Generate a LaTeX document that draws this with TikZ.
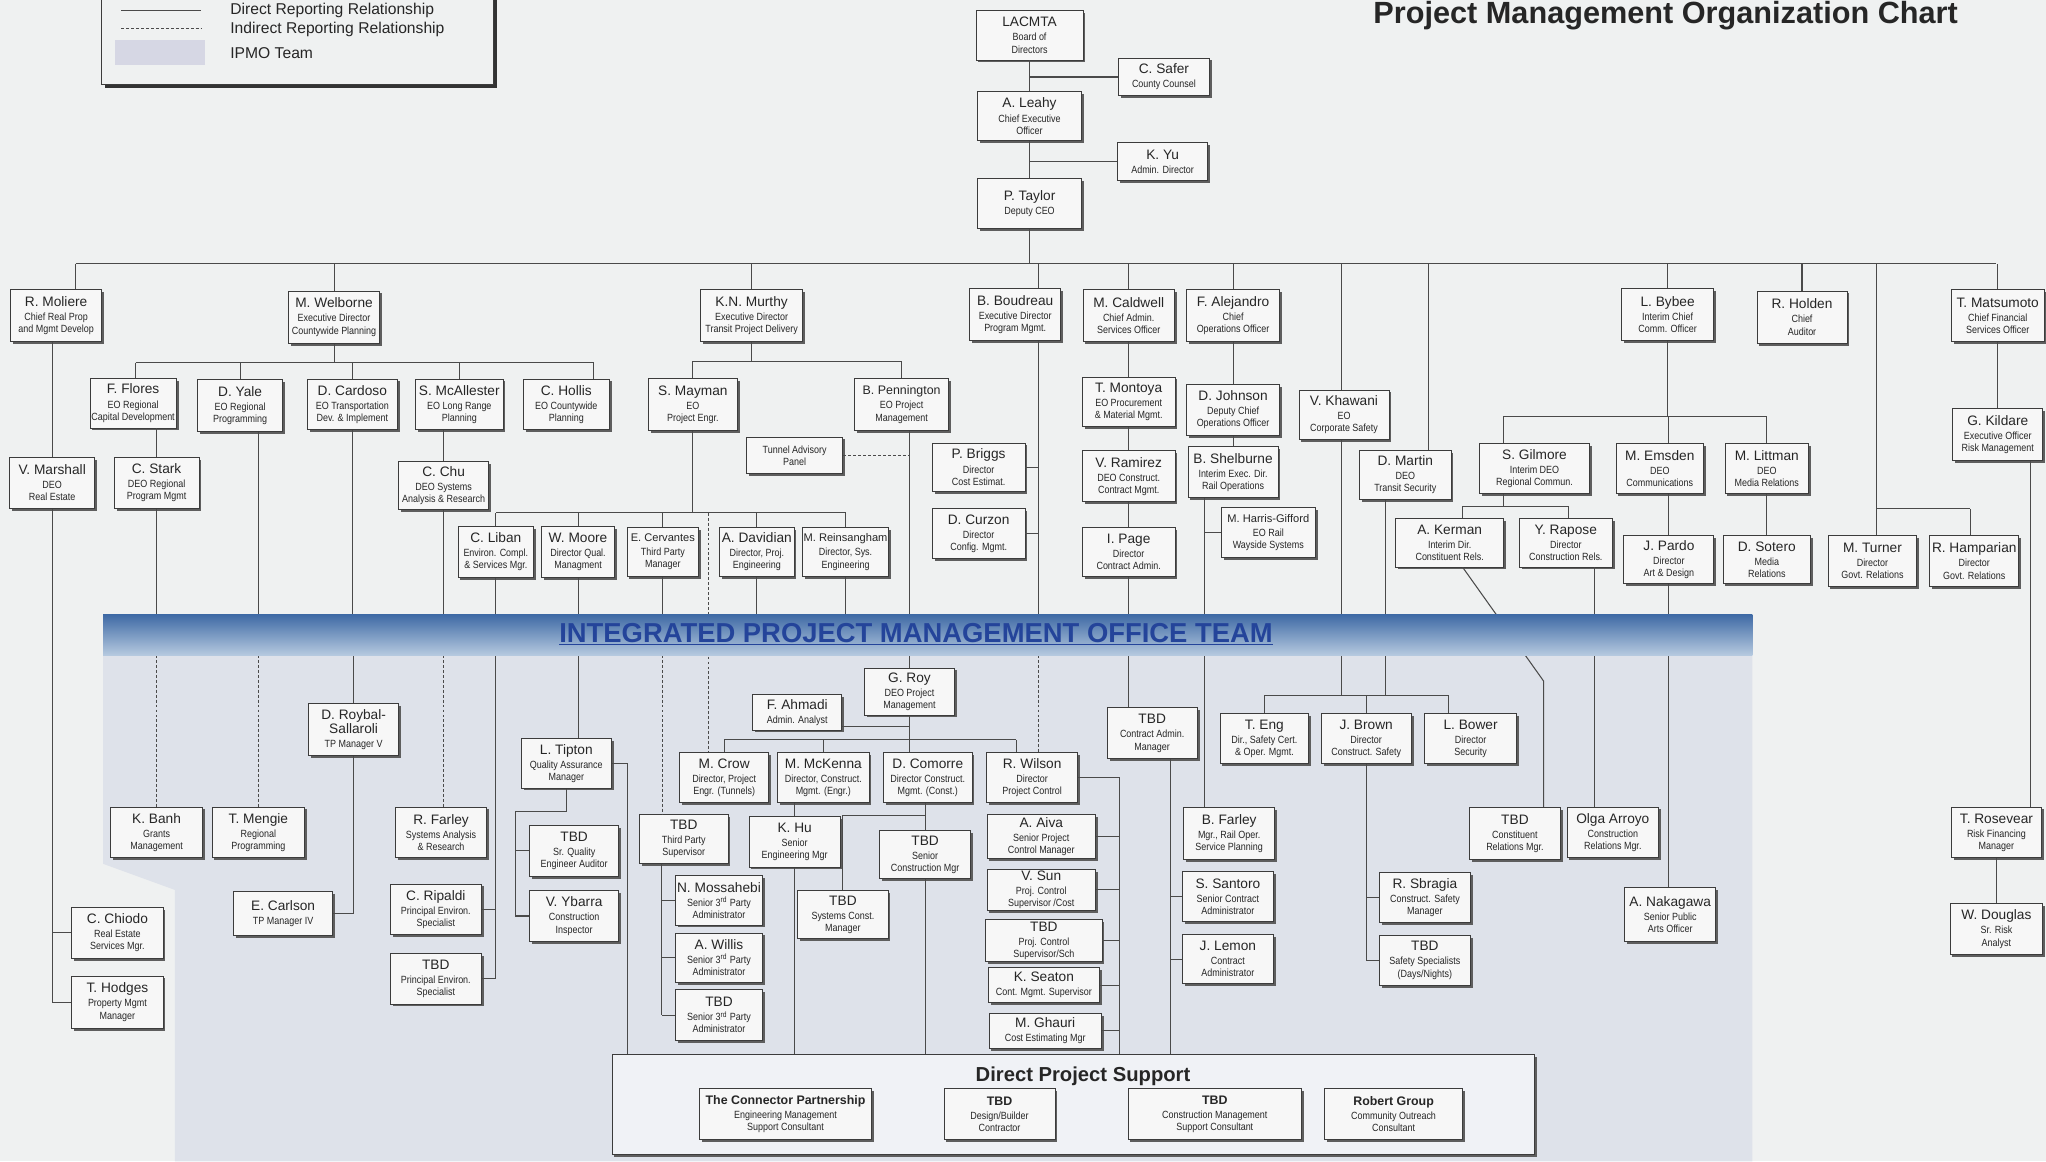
\documentclass[tikz,border=0pt]{standalone}
\usepackage{fontspec}
\setmainfont{Liberation Sans}
\newfontfamily\narrowsf[FakeStretch=0.86]{Liberation Sans}
\usetikzlibrary{shadows}
\definecolor{pagebg}{HTML}{EFF1F1}
\definecolor{ipmobg}{HTML}{DEE2EA}
\definecolor{boxfill}{HTML}{F7F7F7}
\definecolor{boxline}{HTML}{3C3C3C}
\definecolor{boxshade}{HTML}{5E5E5E}
\definecolor{linkgray}{HTML}{4A4A4A}
\definecolor{inkgray}{HTML}{262626}
\definecolor{barblue}{HTML}{3F6AA5}
\definecolor{barlight}{HTML}{B5C9DF}
\definecolor{ipmoblue}{HTML}{24449A}
\definecolor{swatch}{HTML}{D6D7E4}

\pgfdeclarelayer{bg}
\pgfdeclarelayer{front}
\pgfsetlayers{bg,main,front}

\newcommand\psub{\narrowsf\fontsize{8}{9.3}\selectfont}
\newcommand\pname[1]{{\rmfamily\fontsize{10.5}{12}\selectfont #1}\\[1.5pt]}
\newcommand\pnamesm[1]{{\rmfamily\fontsize{8.5}{10}\selectfont #1}\\[1.5pt]}
\newcommand\pnamebf[1]{{\rmfamily\bfseries\fontsize{9.5}{11}\selectfont #1}\\[1.5pt]}

\tikzset{
  pbox/.style={draw=boxline, line width=0.7pt, fill=boxfill, text=inkgray, align=center,
    inner sep=1pt, minimum width=70, minimum height=38, font=\psub,
    general shadow={fill=boxshade, shadow xshift=1.8pt, shadow yshift=-1.8pt}},
  rel/.style={draw=linkgray, line width=0.8pt},
  irel/.style={rel, dash pattern=on 2.2pt off 1.6pt},
  legendtext/.style={anchor=west, text=inkgray, font=\fontsize{12}{14}\selectfont},
}

\begin{document}
\begin{tikzpicture}[x=1pt, y=-1pt]
\useasboundingbox (0,0) rectangle (1568,890);

% Background and IPMO team area
\begin{pgfonlayer}{bg}
\fill[pagebg] (0,0) rectangle (1568,890);
\fill[ipmobg] (79,502) -- (1343,502) -- (1343,890) -- (134,890) -- (134,682) -- (79,662) -- cycle;
\end{pgfonlayer}

% Legend
\node[draw=boxline, line width=0.8pt, fill=pagebg, minimum width=300, minimum height=72,
  general shadow={fill=black!80, shadow xshift=2.5pt, shadow yshift=-2.5pt}] (legend) at (228,29) {};
\draw[rel] (93,8) -- (154,8);
\draw[irel] (93,22) -- (154,22);
\fill[swatch] (88,31) rectangle (157,50);
\node[legendtext] (ldirect) at (173,8) {Direct Reporting Relationship};
\node[legendtext] (lindirect) at (173,22.5) {Indirect Reporting Relationship};
\node[legendtext] (lipmo) at (173,40.5) {IPMO Team};

% Title
\node[font=\bfseries\fontsize{23.5}{26}\selectfont, text=inkgray, anchor=east] (title) at (1504,12) {Project Management Organization Chart};

% Board and CEO
\node[pbox, minimum width=82] (lacmta) at (789,27) {\pname{LACMTA}Board of\\Directors};
\node[pbox, minimum height=29] (safer) at (892,59) {\pname{C. Safer}County Counsel};
\node[pbox, minimum width=80] (leahy) at (789,89) {\pname{A. Leahy}Chief Executive\\Officer};
\node[pbox, minimum height=29, minimum width=69] (kyu) at (891,124) {\pname{K. Yu}Admin. Director};
\node[pbox, minimum width=80] (taylor) at (789,156) {\pname{P. Taylor}Deputy CEO};

% Executive row
\node[pbox, minimum height=40] (moliere) at (43,242) {\pname{R. Moliere}Chief Real Prop\\and Mgmt Develop};
\node[pbox, minimum height=40] (welborne) at (256,243) {\pname{M. Welborne}Executive Director\\Countywide Planning};
\node[pbox, minimum height=40, minimum width=78] (murthy) at (576,242) {\pname{K.N. Murthy}Executive Director\\Transit Project Delivery};
\node[pbox, minimum height=40] (boudreau) at (778,241) {\pname{B. Boudreau}Executive Director\\Program Mgmt.};
\node[pbox, minimum height=40] (caldwell) at (865,242) {\pname{M. Caldwell}Chief Admin.\\Services Officer};
\node[pbox, minimum height=40, minimum width=71] (alejandro) at (945,242) {\pname{F. Alejandro}Chief\\Operations Officer};
\node[pbox, minimum height=40] (bybee) at (1278,241) {\pname{L. Bybee}Interim Chief\\Comm. Officer};
\node[pbox, minimum height=40, minimum width=69] (holden) at (1381,243) {\pname{R. Holden}Chief\\Auditor};
\node[pbox, minimum height=40, minimum width=71] (matsumoto) at (1531,242) {\pname{T. Matsumoto}Chief Financial\\Services Officer};

% Second row
\node[pbox, minimum width=66] (flores) at (102,309) {\pname{F. Flores}EO Regional\\Capital Development};
\node[pbox, minimum width=65, minimum height=40] (yale) at (184,311) {\pname{D. Yale}EO Regional\\Programming};
\node[pbox, minimum width=69, minimum height=39] (cardoso) at (270,310) {\pname{D. Cardoso}EO Transportation\\Dev. \& Implement};
\node[pbox, minimum width=67, minimum height=39] (mcallester) at (352,310) {\pname{S. McAllester}EO Long Range\\Planning};
\node[pbox, minimum width=66, minimum height=39] (hollis) at (434,310) {\pname{C. Hollis}EO Countywide\\Planning};
\node[pbox, minimum width=68, minimum height=40] (mayman) at (531,310) {\pname{S. Mayman}EO\\Project Engr.};
\node[pbox, minimum width=72, minimum height=40] (pennington) at (691,310) {{\rmfamily\fontsize{9.5}{11}\selectfont B. Pennington}\\[1.5pt]EO Project\\Management};
\node[pbox, minimum width=74, minimum height=28] (tunnel) at (609,349) {Tunnel Advisory\\Panel};
\node[pbox, minimum width=71] (montoya) at (865,308) {\pname{T. Montoya}EO Procurement\\\& Material Mgmt.};
\node[pbox, minimum width=71, minimum height=39] (djohnson) at (945,314) {\pname{D. Johnson}Deputy Chief\\Operations Officer};
\node[pbox, minimum width=69] (khawani) at (1030,318) {\pname{V. Khawani}EO\\Corporate Safety};

% Third row
\node[pbox, minimum width=65, minimum height=39] (marshall) at (40,370) {\pname{V. Marshall}DEO\\Real Estate};
\node[pbox, minimum width=65, minimum height=39] (stark) at (120,370) {\pname{C. Stark}DEO Regional\\Program Mgmt};
\node[pbox, minimum width=69, minimum height=37] (chu) at (340,372) {\pname{C. Chu}DEO Systems\\Analysis \& Research};
\node[pbox, minimum width=71, minimum height=37] (briggs) at (750,358) {\pname{P. Briggs}Director\\Cost Estimat.};
\node[pbox, minimum width=71] (curzon) at (750,409) {\pname{D. Curzon}Director\\Config. Mgmt.};
\node[pbox, minimum width=71, minimum height=39] (ramirez) at (865,365) {\pname{V. Ramirez}DEO Construct.\\Contract Mgmt.};
\node[pbox, minimum width=71] (page) at (865,423) {\pname{I. Page}Director\\Contract Admin.};
\node[pbox, minimum width=69, minimum height=39] (shelburne) at (945,362) {\pname{B. Shelburne}Interim Exec. Dir.\\Rail Operations};
\node[pbox, minimum width=72] (harris) at (972,408) {\pnamesm{M. Harris-Gifford}EO Rail\\Wayside Systems};
\node[pbox] (martin) at (1077,364) {\pname{D. Martin}DEO\\Transit Security};
\node[pbox, minimum width=84] (gilmore) at (1176,359) {\pname{S. Gilmore}Interim DEO\\Regional Commun.};
\node[pbox, minimum width=67] (emsden) at (1272,359) {\pname{M. Emsden}DEO\\Communications};
\node[pbox, minimum width=64] (littman) at (1354,359) {\pname{M. Littman}DEO\\Media Relations};
\node[pbox, minimum width=69, minimum height=40] (kildare) at (1531,333) {\pname{G. Kildare}Executive Officer\\Risk Management};

% Fourth row
\node[pbox, minimum width=58, minimum height=39] (liban) at (380,423) {\pname{C. Liban}Environ. Compl.\\\& Services Mgr.};
\node[pbox, minimum width=56, minimum height=39] (moore) at (443,423) {\pname{W. Moore}Director Qual.\\Managment};
\node[pbox, minimum width=55] (cervantes) at (508,423) {\pnamesm{E. Cervantes}Third Party\\Manager};
\node[pbox, minimum width=57] (davidian) at (580,423) {\pname{A. Davidian}Director, Proj.\\Engineering};
\node[pbox, minimum width=60] (reins) at (648,423) {\pnamesm{M. Reinsangham}Director, Sys.\\Engineering};
\node[pbox, minimum width=83, minimum height=37] (kerman) at (1111,416) {\pname{A. Kerman}Interim Dir.\\Constituent Rels.};
\node[pbox, minimum width=71, minimum height=37] (rapose) at (1200,416) {\pname{Y. Rapose}Director\\Construction Rels.};
\node[pbox, minimum width=69, minimum height=37] (pardo) at (1279,429) {\pname{J. Pardo}Director\\Art \& Design};
\node[pbox, minimum width=67, minimum height=37] (sotero) at (1354,429) {\pname{D. Sotero}Media\\Relations};
\node[pbox, minimum width=68, minimum height=39] (turner) at (1435,430) {\pname{M. Turner}Director\\Govt. Relations};
\node[pbox, minimum width=68, minimum height=39] (hamparian) at (1513,430) {\pname{R. Hamparian}Director\\Govt. Relations};

% IPMO team
\node[pbox, minimum width=69, minimum height=40] (roybal) at (271,559) {{\rmfamily\fontsize{10.5}{11.5}\selectfont D. Roybal-}\\\pname{Sallaroli}TP Manager V};
\node[pbox, minimum width=68, minimum height=27] (ahmadi) at (611,546) {\pname{F. Ahmadi}Admin. Analyst};
\node[pbox, minimum width=69, minimum height=36] (roy) at (697,530) {\pname{G. Roy}DEO Project\\Management};
\node[pbox, minimum width=69, minimum height=39] (tbdca) at (883,562) {\pname{TBD}Contract Admin.\\Manager};
\node[pbox, minimum width=68] (eng) at (969,566) {\pname{T. Eng}Dir., Safety Cert.\\\& Oper. Mgmt.};
\node[pbox, minimum width=69] (brown) at (1047,566) {\pname{J. Brown}Director\\Construct. Safety};
\node[pbox, minimum width=71] (bower) at (1127,566) {\pname{L. Bower}Director\\Security};
\node[pbox, minimum width=69] (tipton) at (434,585) {\pname{L. Tipton}Quality Assurance\\Manager};
\node[pbox, minimum width=68] (crow) at (555,596) {\pname{M. Crow}Director, Project\\Engr. (Tunnels)};
\node[pbox] (mckenna) at (631,596) {\pname{M. McKenna}Director, Construct.\\Mgmt. (Engr.)};
\node[pbox, minimum width=68] (comorre) at (711,596) {\pname{D. Comorre}Director Construct.\\Mgmt. (Const.)};
\node[pbox] (wilson) at (791,596) {\pname{R. Wilson}Director\\Project Control};
\node[pbox, minimum height=39] (banh) at (120,638) {\pname{K. Banh}Grants\\Management};
\node[pbox, minimum width=71, minimum height=39] (mengie) at (198,638) {\pname{T. Mengie}Regional\\Programming};
\node[pbox, minimum height=39] (farley) at (338,638) {\pname{R. Farley}Systems Analysis\\\& Research};
\node[pbox, minimum width=68, minimum height=39] (tbdqa) at (440,652) {\pname{TBD}Sr. Quality\\Engineer Auditor};
\node[pbox, minimum width=68, minimum height=37] (tbdtp) at (524,643) {\pname{TBD}Third Party\\Supervisor};
\node[pbox, minimum height=39] (khu) at (609,645) {\pname{K. Hu}Senior\\Engineering Mgr};
\node[pbox, minimum height=37] (tbdsc) at (709,655) {\pname{TBD}Senior\\Construction Mgr};
\node[pbox, minimum width=83, minimum height=34] (aiva) at (798,641) {\pname{A. Aiva}Senior Project\\Control Manager};
\node[pbox, minimum height=40] (bfarley) at (942,639) {\pname{B. Farley}Mgr., Rail Oper.\\Service Planning};
\node[pbox, minimum height=40] (tbdcr) at (1161,639) {\pname{TBD}Constituent\\Relations Mgr.};
\node[pbox, minimum height=39] (olga) at (1236,638) {\pname{Olga Arroyo}Construction\\Relations Mgr.};
\node[pbox, minimum width=69, minimum height=39] (rosevear) at (1530,638) {\pname{T. Rosevear}Risk Financing\\Manager};
\node[pbox, minimum height=39] (ripaldi) at (334,697) {\pname{C. Ripaldi}Principal Environ.\\Specialist};
\node[pbox, minimum width=76, minimum height=34] (carlson) at (217,700) {\pname{E. Carlson}TP Manager IV};
\node[pbox, minimum width=68, minimum height=39] (ybarra) at (440,702) {\pname{V. Ybarra}Construction\\Inspector};
\node[pbox, minimum width=67] (mossahebi) at (551,690) {\pname{N. Mossahebi}Senior 3\textsuperscript{rd} Party\\Administrator};
\node[pbox, minimum width=69, minimum height=37] (tbdsys) at (646,701) {\pname{TBD}Systems Const.\\Manager};
\node[pbox, minimum width=83, minimum height=31] (vsun) at (798,682) {\pname{V. Sun}Proj. Control\\Supervisor /Cost};
\node[pbox] (santoro) at (941,687) {\pname{S. Santoro}Senior Contract\\Administrator};
\node[pbox] (sbragia) at (1092,688) {\pname{R. Sbragia}Construct. Safety\\Manager};
\node[pbox, minimum height=41] (nakagawa) at (1280,701) {\pname{A. Nakagawa}Senior Public\\Arts Officer};
\node[pbox, minimum width=71, minimum height=39] (douglas) at (1530,712) {\pname{W. Douglas}Sr. Risk\\Analyst};
\node[pbox, minimum height=39] (chiodo) at (90,715) {\pname{C. Chiodo}Real Estate\\Services Mgr.};
\node[pbox, minimum width=89, minimum height=32] (tbdpc) at (800,721) {\pname{TBD}Proj. Control\\Supervisor/Sch};
\node[pbox] (lemon) at (941,735) {\pname{J. Lemon}Contract\\Administrator};
\node[pbox] (tbdss) at (1092,736) {\pname{TBD}Safety Specialists\\(Days/Nights)};
\node[pbox, minimum width=67] (willis) at (551,734) {\pname{A. Willis}Senior 3\textsuperscript{rd} Party\\Administrator};
\node[pbox, minimum height=39] (tbdenv) at (334,750) {\pname{TBD}Principal Environ.\\Specialist};
\node[pbox, minimum width=85, minimum height=27] (seaton) at (800,755) {\pname{K. Seaton}Cont. Mgmt. Supervisor};
\node[pbox, minimum height=40] (hodges) at (90,768) {\pname{T. Hodges}Property Mgmt\\Manager};
\node[pbox, minimum width=67, minimum height=39] (tbd3b) at (551,778) {\pname{TBD}Senior 3\textsuperscript{rd} Party\\Administrator};
\node[pbox, minimum width=86, minimum height=27] (ghauri) at (801,790) {\pname{M. Ghauri}Cost Estimating Mgr};

% Direct Project Support
\node[pbox, minimum width=707, minimum height=77, fill=white!55!ipmobg] (dps) at (822.5,846.5) {};
\node[font=\bfseries\fontsize{15.5}{17}\selectfont, text=inkgray] (dpstitle) at (830,825) {Direct Project Support};
\node[pbox, minimum width=132, minimum height=39] (tcp) at (602,854) {\pnamebf{The Connector Partnership}Engineering Management\\Support Consultant};
\node[pbox, minimum width=85, minimum height=39] (tbddb) at (766,854) {\pnamebf{TBD}Design/Builder\\Contractor};
\node[pbox, minimum width=133, minimum height=39] (tbdcm) at (931,854) {\pnamebf{TBD}Construction Management\\Support Consultant};
\node[pbox, minimum width=106, minimum height=39] (robert) at (1068,854) {\pnamebf{Robert Group}Community Outreach\\Consultant};

% junction points
\coordinate (topbar) at (789,202);
\coordinate (barl) at (58,202);
\coordinate (barr) at (1530,202);
\coordinate (bdx) at (796,202);
\coordinate (kwx) at (1028,202);
\coordinate (mtx) at (1095,202);
\coordinate (trx) at (1438,202);
\coordinate (ipmotop) at (0,471);
\coordinate (ipmobot) at (0,502);
\coordinate (wbl) at (104,278);
\coordinate (wbr) at (455,278);
\coordinate (mur) at (0,277);
\coordinate (lh) at (0,393);
\coordinate (crx) at (543,393);
\coordinate (royj) at (697,567);
\coordinate (wilj) at (779,567);
\coordinate (ahj) at (697,557);
\coordinate (comj) at (709,625);
\coordinate (tipj) at (395,622);
\coordinate (tipdps) at (481,808);
\coordinate (tpb) at (507,0);
\coordinate (wilb) at (858,808);
\coordinate (cab) at (897,808);
\coordinate (shj) at (923,410);
\coordinate (safj) at (1028,533);
\coordinate (secj) at (1062,533);
\coordinate (bowj) at (1110,533);
\coordinate (byj) at (0,319);
\coordinate (gilx) at (1152,319);
\coordinate (emx) at (1279,319);
\coordinate (kj) at (1121,388);
\coordinate (rj) at (1202,388);
\coordinate (crj) at (1183,522);
\coordinate (olx) at (1222,0);
\coordinate (tj) at (1438,390);
\coordinate (hj) at (1510,390);
\coordinate (rfx) at (1556,0);

% CEO chain
\draw[rel] (lacmta) -- (leahy);
\draw[rel] (leahy) -- (taylor);
\draw[rel] (safer.west) -- (safer.west -| lacmta.south);
\draw[rel] (kyu.west) -- (kyu.west -| leahy.south);
\draw[rel] (taylor) -- (topbar);
\draw[rel] (barl) -- (barr);
\draw[rel] (barl) -- (barl |- moliere.north);
\foreach \n in {welborne,murthy,caldwell,alejandro,bybee,holden,matsumoto}
  \draw[rel] (\n.north) -- (\n.north |- topbar);
\draw[rel] (bdx) -- (bdx |- boudreau.north);
\draw[rel] (kwx) -- (kwx |- khawani.north);
\draw[rel] (mtx) -- (mtx |- martin.north);
\draw[rel] (trx) -- (tj) -- (hj);

% Real estate
\draw[rel] (marshall.north |- moliere.south) -- (marshall.north);
\draw[rel] (marshall.south) -- (marshall.south |- hodges.west) -- (hodges.west);
\draw[rel] (marshall.south |- chiodo.west) -- (chiodo.west);

% Countywide planning
\draw[rel] (welborne.south) -- (welborne.south |- wbl);
\draw[rel] (wbl) -- (wbr);
\draw[rel] (wbl) -- (wbl |- flores.north);
\foreach \n in {yale,cardoso,mcallester}
  \draw[rel] (\n.north) -- (\n.north |- wbl);
\draw[rel] (wbr) -- (wbr |- hollis.north);
\draw[rel] (stark.north |- flores.south) -- (stark.north);
\draw[rel] (stark.south) -- (stark.south |- ipmotop);
\draw[irel] (banh.north |- ipmobot) -- (banh.north);
\draw[rel] (mengie.north |- yale.south) -- (mengie.north |- ipmotop);
\draw[irel] (mengie.north |- ipmobot) -- (mengie.north);
\draw[rel] (cardoso.south) -- (cardoso.south |- ipmotop);
\draw[rel] (roybal.north |- ipmobot) -- (roybal.north);
\draw[rel] (roybal.south) |- (carlson.east);
\draw[rel] (chu.north |- mcallester.south) -- (chu.north);
\draw[rel] (chu.south) -- (chu.south |- ipmotop);
\draw[irel] (chu.south |- ipmobot) -- (chu.south |- farley.north);

% Transit project delivery
\draw[rel] (murthy.south) -- (murthy.south |- mur);
\draw[rel] (mayman.north |- mur) -- (pennington.north |- mur);
\draw[rel] (mayman.north) -- (mayman.north |- mur);
\draw[rel] (pennington.north) -- (pennington.north |- mur);
\draw[rel] (roy.north |- pennington.south) -- (roy.north);
\draw[irel] (tunnel.east) -- (tunnel.east -| roy.north);
\draw[rel] (mayman.south) -- (mayman.south |- lh);
\draw[rel] (liban.north |- lh) -- (reins.north |- lh);
\foreach \n in {liban,moore,cervantes,davidian,reins} {
  \draw[rel] (\n.north) -- (\n.north |- lh);
  \draw[rel] (\n.south) -- (\n.south |- ipmotop);
}
\draw[irel] (crx) -- (crx |- crow.north);
\draw[rel] (liban.south |- ipmobot) -- (liban.south |- tbdenv.east) -- (tbdenv.east);
\draw[rel] (liban.south |- ripaldi.east) -- (ripaldi.east);
\draw[rel] (moore.south |- ipmobot) -- (moore.south |- tipton.north);
\draw[rel] (tipton.south) |- (tipj) -- (tipj |- ybarra.west) -- (ybarra.west);
\draw[rel] (tipj |- tbdqa.west) -- (tbdqa.west);
\draw[rel] (tipton.east) -| (tipdps);
\draw[irel] (cervantes.south |- ipmobot) -- (cervantes.south |- tbdtp.north);
\draw[rel] (tpb |- tbdtp.south) -- (tpb |- tbd3b.west);
\foreach \n in {mossahebi,willis,tbd3b}
  \draw[rel] (\n.west) -- (\n.west -| tpb);

% Project management
\draw[rel] (roy.south) -- (royj);
\draw[rel] (crow.north |- royj) -- (wilj);
\draw[rel] (crow.north) -- (crow.north |- royj);
\draw[rel] (mckenna.north) -- (mckenna.north |- royj);
\draw[rel] (royj) -- (royj |- comorre.north);
\draw[rel] (wilj) -- (wilj |- wilson.north);
\draw[rel] (ahj -| ahmadi.east) -- (ahj);
\draw[rel] (khu.north |- mckenna.south) -- (khu.north);
\draw[rel] (khu.south) -- (khu.south |- dps.north);
\draw[rel] (tbdsc.north |- comorre.south) -- (tbdsc.north);
\draw[rel] (tbdsys.north) |- (comj);
\draw[rel] (tbdsc.south) -- (tbdsc.south |- dps.north);
\draw[rel] (wilson.east) -| (wilb);
\foreach \n in {aiva,vsun,tbdpc,seaton,ghauri}
  \draw[rel] (\n.east) -- (\n.east -| wilb);

% Program management
\draw[rel] (bdx |- boudreau.south) -- (bdx |- ipmotop);
\draw[irel] (bdx |- ipmobot) -- (bdx |- wilson.north);
\draw[rel] (briggs.east) -- (briggs.east -| bdx);
\draw[rel] (curzon.east) -- (curzon.east -| bdx);

% Admin services
\draw[rel] (caldwell) -- (montoya);
\draw[rel] (montoya) -- (ramirez);
\draw[rel] (ramirez) -- (page);
\draw[rel] (page.south) -- (page.south |- tbdca.north);
\draw[rel] (cab |- tbdca.south) -- (cab);
\draw[rel] (santoro.west) -- (santoro.west -| cab);
\draw[rel] (lemon.west) -- (lemon.west -| cab);

% Operations
\draw[rel] (alejandro) -- (djohnson);
\draw[rel] (djohnson) -- (shelburne);
\draw[rel] (shj |- shelburne.south) -- (shj |- bfarley.north);
\draw[rel] (harris.west) -- (harris.west -| shj);

% Safety and security
\draw[rel] (safj |- khawani.south) -- (safj);
\draw[rel] (secj |- martin.south) -- (secj);
\draw[rel] (eng.north |- safj) -- (bowj);
\draw[rel] (eng.north) -- (eng.north |- safj);
\draw[rel] (brown.north) -- (brown.north |- safj);
\draw[rel] (bowj) -- (bowj |- bower.north);
\draw[rel] (brown.south) -- (brown.south |- tbdss.west) -- (tbdss.west);
\draw[rel] (brown.south |- sbragia.west) -- (sbragia.west);

% Communications
\draw[rel] (bybee.south) -- (bybee.south |- byj);
\draw[rel] (gilx) -- (littman.north |- byj);
\draw[rel] (gilx) -- (gilx |- gilmore.north);
\draw[rel] (emx) -- (emx |- emsden.north);
\draw[rel] (littman.north) -- (littman.north |- byj);
\draw[rel] (emx |- emsden.south) -- (emx |- pardo.north);
\draw[rel] (emx |- pardo.south) -- (emx |- nakagawa.north);
\draw[rel] (littman) -- (sotero);
\draw[rel] (gilx |- gilmore.south) -- (gilx |- kj);
\draw[rel] (kj) -- (rj);
\draw[rel] (kj) -- (kj |- kerman.north);
\draw[rel] (rj) -- (rj |- rapose.north);
\draw[rel] (kj |- kerman.south) -- (crj) -- (crj |- tbdcr.north);
\draw[rel] (olx |- rapose.south) -- (olx |- olga.north);

% Government relations and finance
\draw[rel] (tj) -- (tj |- turner.north);
\draw[rel] (hj) -- (hj |- hamparian.north);
\draw[rel] (matsumoto) -- (kildare);
\draw[rel] (rfx |- kildare.south) -- (rfx |- rosevear.north);
\draw[rel] (rosevear) -- (douglas);

% IPMO banner
\begin{pgfonlayer}{front}
\shade[top color=barblue, bottom color=barlight] (79,471) rectangle (1343,502);
\node[font=\bfseries\fontsize{21}{23}\selectfont, text=ipmoblue] (ipmo) at (702,486) {\underline{INTEGRATED PROJECT MANAGEMENT OFFICE TEAM}};
\end{pgfonlayer}
\end{tikzpicture}
\end{document}
